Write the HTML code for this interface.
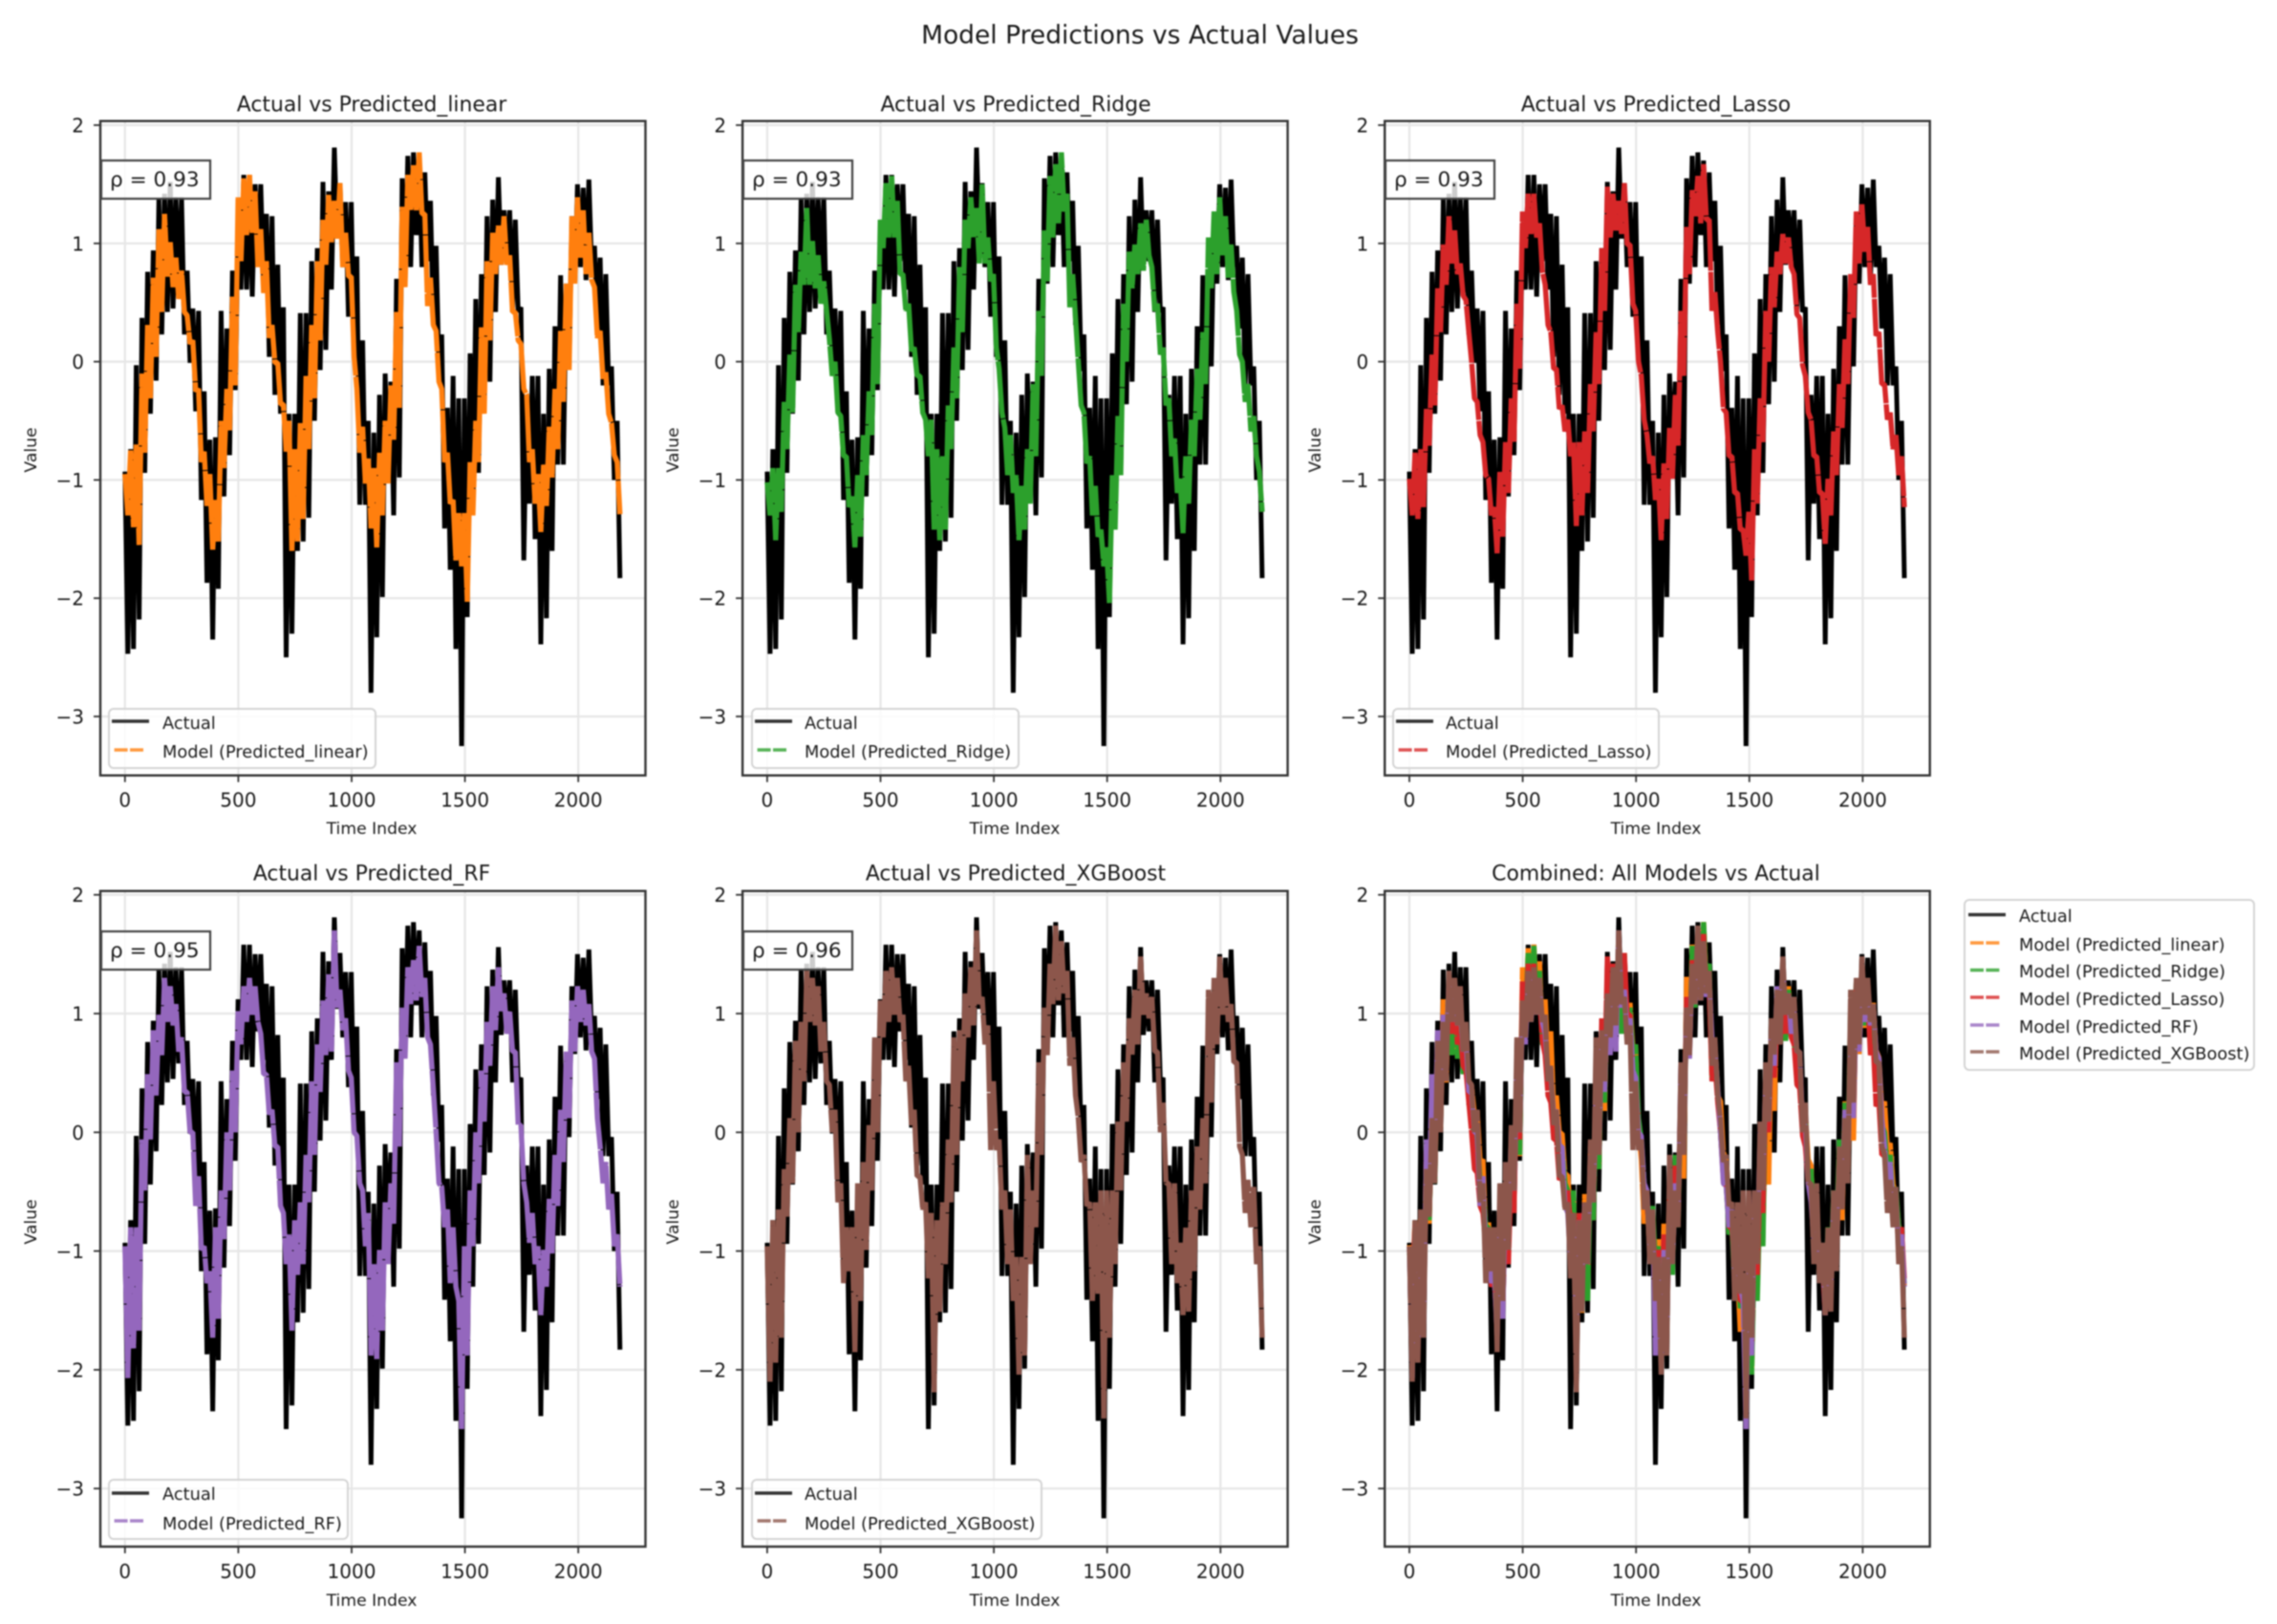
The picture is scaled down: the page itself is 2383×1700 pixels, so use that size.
<!DOCTYPE html>
<html lang="en">
<head>
<meta charset="utf-8">
<title>Model Predictions vs Actual Values</title>
<style>
html,body{margin:0;padding:0;background:#fff;width:2383px;height:1700px;overflow:hidden}
svg{display:block;filter:blur(0.9px)}
text{font-family:"DejaVu Sans","Liberation Sans",sans-serif;fill:#1a1a1a}
.title{font-size:21.9px;text-anchor:middle}
.axlabel{font-size:17.2px;text-anchor:middle}
.tick{font-size:20px}
.leg{font-size:17.8px}
.rho{font-size:21.6px}
.legbox{fill:#fff;fill-opacity:.8;stroke:#d4d4d4;stroke-width:2}
.rhobox{fill:#fff;fill-opacity:.8;stroke:#444;stroke-width:2.2}
.frame{fill:none;stroke:#333;stroke-width:2.4}
</style>
</head>
<body>
<svg id="fig" xmlns="http://www.w3.org/2000/svg" width="2383" height="1700" viewBox="0 0 2383 1700">
<rect width="2383" height="1700" fill="#fff"/>
<text x="1193" y="45.5" font-size="26.5" text-anchor="middle">Model Predictions vs Actual Values</text>

<g id="panel-0">
<text class="title" x="389" y="116.7">Actual vs Predicted_linear</text>
<text class="axlabel" x="389" y="873">Time Index</text>
<text class="axlabel" transform="translate(38,471) rotate(-90)">Value</text>
<g class="plot"></g>
<rect class="rhobox" x="106" y="168" width="114" height="40"/>
<text class="rho" x="115" y="195">ρ = 0.93</text>
<rect class="legbox" x="114" y="742" width="279" height="62" rx="5"/>
<line x1="117" x2="156" y1="755" y2="755" stroke="#000" stroke-opacity=".8" stroke-width="3.6"/>
<line x1="119.6" x2="150" y1="785" y2="785" stroke="#ff7f0e" stroke-opacity=".8" stroke-width="3.6" stroke-dasharray="14 2.4"/>
<text class="leg" x="170" y="763">Actual</text>
<text class="leg" x="170" y="793">Model (Predicted_linear)</text>
</g>

<g id="panel-1">
<text class="title" x="1063" y="116.7">Actual vs Predicted_Ridge</text>
<text class="axlabel" x="1062" y="873">Time Index</text>
<text class="axlabel" transform="translate(710,471) rotate(-90)">Value</text>
<g class="plot"></g>
<rect class="rhobox" x="778" y="168" width="114" height="40"/>
<text class="rho" x="787" y="195">ρ = 0.93</text>
<rect class="legbox" x="787" y="742" width="279" height="62" rx="5"/>
<line x1="790" x2="829" y1="755" y2="755" stroke="#000" stroke-opacity=".8" stroke-width="3.6"/>
<line x1="792.6" x2="823" y1="785" y2="785" stroke="#2ca02c" stroke-opacity=".8" stroke-width="3.6" stroke-dasharray="14 2.4"/>
<text class="leg" x="842" y="763">Actual</text>
<text class="leg" x="842" y="793">Model (Predicted_Ridge)</text>
</g>

<g id="panel-2">
<text class="title" x="1733" y="116.7">Actual vs Predicted_Lasso</text>
<text class="axlabel" x="1733" y="873">Time Index</text>
<text class="axlabel" transform="translate(1382,471) rotate(-90)">Value</text>
<g class="plot"></g>
<rect class="rhobox" x="1450" y="168" width="114" height="40"/>
<text class="rho" x="1459" y="195">ρ = 0.93</text>
<rect class="legbox" x="1458" y="742" width="278" height="62" rx="5"/>
<line x1="1461" x2="1500" y1="755" y2="755" stroke="#000" stroke-opacity=".8" stroke-width="3.6"/>
<line x1="1463.6" x2="1494" y1="785" y2="785" stroke="#d62728" stroke-opacity=".8" stroke-width="3.6" stroke-dasharray="14 2.4"/>
<text class="leg" x="1513" y="763">Actual</text>
<text class="leg" x="1513" y="793">Model (Predicted_Lasso)</text>
</g>

<g id="panel-3">
<text class="title" x="389" y="921.5">Actual vs Predicted_RF</text>
<text class="axlabel" x="389" y="1681">Time Index</text>
<text class="axlabel" transform="translate(38,1279) rotate(-90)">Value</text>
<g class="plot"></g>
<rect class="rhobox" x="106" y="975" width="114" height="40"/>
<text class="rho" x="115" y="1002">ρ = 0.95</text>
<rect class="legbox" x="114" y="1549" width="250" height="62" rx="5"/>
<line x1="117" x2="156" y1="1563" y2="1563" stroke="#000" stroke-opacity=".8" stroke-width="3.6"/>
<line x1="119.6" x2="150" y1="1592" y2="1592" stroke="#9467bd" stroke-opacity=".8" stroke-width="3.6" stroke-dasharray="14 2.4"/>
<text class="leg" x="170" y="1570">Actual</text>
<text class="leg" x="170" y="1601">Model (Predicted_RF)</text>
</g>

<g id="panel-4">
<text class="title" x="1063" y="921.5">Actual vs Predicted_XGBoost</text>
<text class="axlabel" x="1062" y="1681">Time Index</text>
<text class="axlabel" transform="translate(710,1279) rotate(-90)">Value</text>
<g class="plot"></g>
<rect class="rhobox" x="778" y="975" width="114" height="40"/>
<text class="rho" x="787" y="1002">ρ = 0.96</text>
<rect class="legbox" x="787" y="1549" width="303" height="62" rx="5"/>
<line x1="790" x2="829" y1="1563" y2="1563" stroke="#000" stroke-opacity=".8" stroke-width="3.6"/>
<line x1="792.6" x2="823" y1="1592" y2="1592" stroke="#8c564b" stroke-opacity=".8" stroke-width="3.6" stroke-dasharray="14 2.4"/>
<text class="leg" x="842" y="1570">Actual</text>
<text class="leg" x="842" y="1601">Model (Predicted_XGBoost)</text>
</g>

<g id="panel-5">
<text class="title" x="1733" y="921.5">Combined: All Models vs Actual</text>
<text class="axlabel" x="1733" y="1681">Time Index</text>
<text class="axlabel" transform="translate(1382,1279) rotate(-90)">Value</text>
<g class="plot"></g>
</g>

<g>
<rect class="legbox" x="2056" y="942" width="303" height="178" rx="5"/>
<line x1="2060" x2="2099" y1="957.5" y2="957.5" stroke="#000" stroke-opacity=".8" stroke-width="3.6"/>
<line x1="2062" x2="2092.4" y1="987" y2="987" stroke="#ff7f0e" stroke-opacity=".8" stroke-width="3.6" stroke-dasharray="14 2.4"/>
<line x1="2062" x2="2092.4" y1="1015.5" y2="1015.5" stroke="#2ca02c" stroke-opacity=".8" stroke-width="3.6" stroke-dasharray="14 2.4"/>
<line x1="2062" x2="2092.4" y1="1044" y2="1044" stroke="#d62728" stroke-opacity=".8" stroke-width="3.6" stroke-dasharray="14 2.4"/>
<line x1="2062" x2="2092.4" y1="1073" y2="1073" stroke="#9467bd" stroke-opacity=".8" stroke-width="3.6" stroke-dasharray="14 2.4"/>
<line x1="2062" x2="2092.4" y1="1101" y2="1101" stroke="#8c564b" stroke-opacity=".8" stroke-width="3.6" stroke-dasharray="14 2.4"/>
<text class="leg" x="2113" y="965">Actual</text>
<text class="leg" x="2113" y="995">Model (Predicted_linear)</text>
<text class="leg" x="2113" y="1023">Model (Predicted_Ridge)</text>
<text class="leg" x="2113" y="1052">Model (Predicted_Lasso)</text>
<text class="leg" x="2113" y="1081">Model (Predicted_RF)</text>
<text class="leg" x="2113" y="1109">Model (Predicted_XGBoost)</text>
</g>
</svg>

<script>
/* Each series alternates a high and a low reading, one reading every sampleStep time-index units. */
const sampleStep = 12.48;
const xTicks = [0, 500, 1000, 1500, 2000];
const xTickLabels = ['0', '500', '1000', '1500', '2000'];
const yTicks = [-3, -2, -1, 0, 1, 2];
const yTickLabels = ['−3', '−2', '−1', '0', '1', '2'];

const actualValues = [
-0.93,-2.47,-0.74,-2.43,-0.03,-2.18,0.37,-0.94,0.76,-0.44,0.94,-0.16,1.37,0.23,1.42,0.42,
1.52,0.45,1.39,0.58,1.39,0.23,0.77,-0.01,0.45,-0.42,0.43,-1.17,-0.25,-1.87,-0.66,-2.35,
-0.64,-1.92,0.43,-1.14,0.28,-0.79,0.77,-0.24,1.12,0.61,1.58,0.61,1.58,0.55,1.5,0.85,
1.5,0.61,1.25,0.04,1.23,-0.28,0.82,-0.44,0.46,-2.5,-0.44,-2.3,-0.44,-1.6,0.41,-1.52,
0.41,-1.32,0.85,-0.5,0.96,-0.07,1.52,0.1,1.44,0.61,1.81,1.04,1.51,0.8,1.35,0.38,
1.35,0.04,0.89,-1.21,0.18,-1.21,-0.5,-2.8,-0.6,-2.33,-0.28,-1.99,-0.1,-0.9,-0.17,-1.3,
0.7,-0.98,1.55,0.66,1.74,0.8,1.77,1.07,1.7,0.8,1.6,0.85,1.36,0.31,0.98,-0.08,
0.23,-1.41,-0.39,-1.76,-0.12,-2.43,-0.31,-3.25,-0.31,-2.16,0.07,-1.3,0.53,-0.94,0.74,-0.36,
1.23,-0.17,1.37,0.42,1.56,0.82,1.28,0.85,1.28,0.42,1.2,0.42,0.46,-1.68,-0.28,-1.2,
-0.12,-1.5,-0.12,-2.39,-0.44,-2.17,-0.06,-1.6,0.3,-0.87,0.73,-0.87,0.66,-0.04,1.23,0.66,
1.5,0.8,1.47,0.69,1.54,0.8,0.98,0.28,0.88,-0.2,0.74,-0.2,-0.04,-1.0,-0.5,-1.83];

const linearValues = [
-0.95,-1.3,-0.75,-1.4,-0.7,-1.55,-0.1,-0.77,0.31,-0.31,0.71,0.04,1.12,0.42,1.25,0.72,
1.01,0.63,0.88,0.53,0.77,0.42,0.39,0.15,0.18,-0.25,-0.23,-0.85,-0.76,-1.22,-0.95,-1.59,
-1.17,-1.52,-0.5,-0.9,-0.23,-0.58,0.55,-0.2,1.39,0.85,1.55,1.07,1.58,1.09,1.44,0.8,
1.12,0.58,0.85,0.2,0.31,-0.01,-0.01,-0.36,-0.36,-0.76,-0.5,-1.6,-0.74,-1.52,-0.52,-1.33,
-0.12,-0.74,0.31,-0.31,0.85,0.18,1.2,0.82,1.41,1.01,1.36,1.04,1.51,0.8,1.09,0.72,
0.72,0.04,-0.23,-0.77,-0.55,-1.03,-0.82,-1.41,-0.9,-1.57,-0.77,-1.3,-0.5,-1.03,-0.2,-0.66,
0.42,-0.39,1.31,0.63,1.58,1.28,1.66,1.28,1.77,1.25,1.25,0.47,0.71,0.31,0.26,-0.17,
-0.23,-0.85,-0.77,-1.2,-1.17,-1.68,-1.28,-1.73,-1.28,-2.03,-0.85,-1.3,-0.5,-0.85,0.29,-0.44,
0.85,0.18,1.09,0.74,1.15,0.82,1.23,0.82,0.9,0.42,0.42,0.18,0.15,-0.23,-0.28,-0.85,
-0.74,-1.2,-0.95,-1.44,-0.87,-1.22,-0.55,-0.98,-0.23,-0.74,0.26,-0.34,0.66,-0.07,1.23,0.66,
1.39,0.88,1.28,0.74,1.09,0.69,0.63,0.2,0.26,-0.15,-0.09,-0.44,-0.52,-0.79,-0.85,-1.29];

const ridgeValues = [
-1.02,-1.3,-0.9,-1.51,-0.9,-1.27,-0.34,-0.74,0.06,-0.43,0.65,0.25,0.93,0.65,1.3,0.65,
1.02,0.62,0.9,0.49,0.68,0.43,0.19,-0.12,0,-0.43,-0.46,-0.8,-0.8,-1.23,-1.14,-1.57,
-0.96,-1.48,-0.62,-0.96,-0.25,-0.62,0.49,-0.19,1.2,0.96,1.51,1.05,1.57,1.05,1.36,0.74,
0.74,0.43,0.49,0.09,0.12,-0.12,-0.12,-0.43,-0.49,-0.8,-0.49,-1.42,-0.74,-1.51,-0.8,-1.42,
-0.37,-0.74,0.12,-0.31,0.8,0.25,1.2,0.96,1.39,1.05,1.3,0.83,1.5,0.83,1.05,0.68,
0.74,0.12,-0.06,-0.43,-0.56,-0.96,-0.62,-1.11,-0.96,-1.51,-1.05,-1.42,-0.74,-1.2,-0.19,-0.8,
0.43,-0.12,1.11,0.68,1.57,1.05,1.67,1.17,1.77,1.27,1.42,0.46,0.74,0.37,0,-0.37,
-0.43,-0.86,-0.8,-1.3,-1.05,-1.48,-1.42,-1.73,-1.57,-2.04,-0.96,-1.42,-0.46,-0.96,0.49,0,
0.93,0.62,0.99,0.74,1.17,0.77,1.2,0.9,0.8,0.43,0.49,0.06,0.12,-0.37,-0.31,-0.8,
-0.65,-1.11,-0.99,-1.45,-0.8,-1.2,-0.49,-0.8,-0.06,-0.49,0.25,-0.19,1.05,0.62,1.27,0.74,
1.39,0.9,1.23,0.71,0.99,0.59,0.43,0.06,0,-0.34,-0.19,-0.59,-0.46,-0.8,-0.93,-1.27];

const lassoValues = [
-0.99,-1.3,-0.77,-1.33,-0.74,-1.23,-0.4,-0.71,0.06,-0.37,0.62,0.25,0.99,0.65,1.23,0.83,
1.11,0.74,0.83,0.56,0.52,0.25,0,-0.31,-0.34,-0.62,-0.68,-0.96,-0.99,-1.3,-1.23,-1.62,
-0.93,-1.48,-0.68,-1.11,-0.31,-0.68,0.49,-0.06,1.27,0.96,1.42,1.08,1.42,1.05,1.17,0.77,
0.65,0.31,0.25,-0.06,-0.06,-0.4,-0.37,-0.59,-0.49,-0.8,-0.68,-1.39,-0.68,-1.3,-0.59,-1.11,
-0.19,-0.59,0.25,-0.19,0.96,0.43,1.48,1.05,1.42,1.11,1.36,1.08,1.51,0.99,0.99,0.49,
0.43,0,-0.12,-0.49,-0.62,-0.86,-0.8,-1.17,-0.99,-1.51,-0.86,-1.33,-0.56,-0.99,-0.28,-0.71,
0.43,-0.12,1.14,0.74,1.45,1.23,1.57,1.17,1.67,1.2,1.2,0.43,0.59,0.25,0,-0.4,
-0.43,-0.8,-0.8,-1.11,-1.11,-1.42,-1.42,-1.64,-1.27,-1.85,-0.74,-1.2,-0.31,-0.68,0.43,0,
0.8,0.46,0.93,0.74,1.08,0.83,1.05,0.8,0.74,0.4,0.37,-0.03,-0.12,-0.43,-0.49,-0.8,
-0.8,-1.11,-1.11,-1.54,-0.99,-1.3,-0.59,-0.96,-0.19,-0.56,0.19,-0.19,0.74,0.37,1.27,0.83,
1.33,0.93,1.14,0.65,0.74,0.22,0.25,-0.19,-0.19,-0.49,-0.43,-0.74,-0.62,-0.96,-0.8,-1.23];

const rfValues = [
-0.96,-2.07,-0.8,-1.82,-0.8,-1.67,-0.06,-0.49,0.49,-0.06,0.86,0.31,0.99,0.65,1.3,0.93,
1.23,0.9,1.08,0.68,0.8,0.34,0.34,0,0,-0.62,-0.37,-0.99,-0.96,-1.27,-1.17,-1.73,
-0.8,-1.57,-0.49,-0.9,0,-0.49,0.52,0,1.02,0.74,1.23,0.93,1.3,0.99,1.23,0.93,
0.83,0.49,0.49,0.15,0.19,-0.12,-0.12,-0.62,-0.68,-1.11,-0.86,-1.67,-0.74,-1.2,-0.59,-1.11,
-0.19,-0.59,0.43,-0.19,0.74,0.34,1.11,0.65,1.33,0.68,1.7,1.05,1.2,0.86,0.96,0.52,
0.46,0,-0.03,-0.43,-0.49,-0.96,-0.68,-1.88,-1.11,-1.91,-0.99,-1.67,-0.59,-1.11,-0.43,-0.77,
0.59,-0.12,1.05,0.62,1.39,1.08,1.45,1.11,1.57,1.14,1.3,0.8,0.74,0.37,0,-0.43,
-0.46,-0.8,-0.65,-1.27,-0.8,-1.3,-1.42,-2.5,-0.96,-1.88,-0.49,-0.96,0,-0.43,0.52,0.09,
0.93,0.56,1.23,0.86,1.39,1.02,1.17,0.83,1.02,0.68,0.68,0.06,0.06,-0.43,-0.59,-0.93,
-0.68,-1.11,-0.96,-1.54,-0.99,-1.3,-0.56,-1.02,-0.19,-0.62,0.19,-0.25,0.68,0.12,1.11,0.68,
1.23,0.93,1.2,0.9,1.08,0.68,0.62,0.12,-0.12,-0.43,-0.25,-0.65,-0.52,-0.96,-0.86,-1.3];

const xgboostValues = [
-0.96,-2.1,-0.74,-1.94,-0.65,-1.73,-0.31,-0.71,0.12,-0.43,0.77,0,0.93,0.43,1.36,0.93,
1.3,0.9,1.23,0.68,0.93,0.43,0.4,0,0.19,-0.59,-0.43,-1.27,-0.8,-1.17,-0.8,-1.85,
-0.43,-1.42,-0.25,-0.99,0.06,-0.49,0.8,0,1.11,0.8,1.36,0.93,1.39,0.99,1.3,0.93,
0.99,0.43,0.56,0.06,0.19,-0.37,-0.37,-0.65,-0.59,-1.23,-0.68,-2.19,-0.74,-1.51,-0.59,-1.11,
-0.06,-0.59,0.8,-0.19,0.86,0.43,1.17,0.8,1.39,0.9,1.7,1.08,1.14,0.74,0.9,-0.15,
0.43,-0.15,-0.06,-0.65,-0.49,-1.11,-0.65,-1.42,-1.05,-2.04,-1.05,-1.88,-0.19,-1.11,-0.49,-0.8,
0.59,-0.19,1.05,0.65,1.42,1.08,1.74,1.11,1.61,1.17,1.36,0.56,0.8,0.31,0.12,-0.25,
-0.19,-0.62,-0.59,-1.42,-0.59,-1.36,-0.49,-2.41,-0.49,-1.73,-0.49,-1.11,0.09,-0.49,0.59,0.09,
0.96,0.65,1.2,0.74,1.48,0.99,1.17,0.96,1.14,0.68,0.68,0,0.25,-0.43,-0.43,-1.11,
-0.43,-1.27,-0.93,-1.54,-0.8,-1.51,-0.49,-1.17,-0.12,-0.65,0.12,-0.43,1.2,0.25,1.3,0.74,
1.48,0.99,1.3,0.93,1.08,0.59,0.59,-0.12,-0.19,-0.68,-0.4,-0.8,-0.46,-1.11,-0.96,-1.73];

const panelSeries = [
  [{ name: 'linear', values: linearValues, color: '#ff7f0e' }],
  [{ name: 'ridge', values: ridgeValues, color: '#2ca02c' }],
  [{ name: 'lasso', values: lassoValues, color: '#d62728' }],
  [{ name: 'rf', values: rfValues, color: '#9467bd' }],
  [{ name: 'xgboost', values: xgboostValues, color: '#8c564b' }],
  [
    { name: 'linear', values: linearValues, color: '#ff7f0e' },
    { name: 'ridge', values: ridgeValues, color: '#2ca02c' },
    { name: 'lasso', values: lassoValues, color: '#d62728' },
    { name: 'rf', values: rfValues, color: '#9467bd' },
    { name: 'xgboost', values: xgboostValues, color: '#8c564b' }
  ]
];

const SVG_NS = 'http://www.w3.org/2000/svg';
const columnLefts = [105, 777.1, 1449.2];
const rowLayouts = [
  { top: 126.7, bottom: 811.7, zero: 378.6, unit: 123.8 },
  { top: 932.7, bottom: 1619, zero: 1185.3, unit: 124.3 }
];
const plotWidth = 570.5;
const zeroOffset = 25.8;
const pxPerIndex = 0.2372;

function svgEl(tag, props) {
  const el = document.createElementNS(SVG_NS, tag);
  Object.keys(props).forEach(function (k) { el.setAttribute(k, props[k]); });
  return el;
}

function buildPanel(panelIdx) {
  const left = columnLefts[panelIdx % 3];
  const row = rowLayouts[panelIdx < 3 ? 0 : 1];
  const right = left + plotWidth;
  const xScale = function (i) { return left + zeroOffset + i * pxPerIndex; };
  const yScale = function (v) { return row.zero - v * row.unit; };
  const plot = document.querySelector('#panel-' + panelIdx + ' .plot');

  xTicks.forEach(function (t, k) {
    const x = xScale(t);
    const grid = svgEl('line', { x1: x, x2: x, y1: row.top, y2: row.bottom, stroke: '#e6e6e6', 'stroke-width': 2.2 });
    
    
    plot.appendChild(grid);
    const mark = svgEl('line', { x1: x, x2: x, y1: row.bottom, y2: row.bottom + 7, stroke: '#333', 'stroke-width': 1.8 });
    
    
    plot.appendChild(mark);
    const label = svgEl('text', { x: x, y: row.bottom + 33, 'text-anchor': 'middle', class: 'tick' });
    
    
    label.textContent = xTickLabels[k];
    plot.appendChild(label);
  });

  yTicks.forEach(function (t, k) {
    const y = yScale(t);
    const grid = svgEl('line', { x1: left, x2: right, y1: y, y2: y, stroke: '#e6e6e6', 'stroke-width': 2.2 });
    
    
    plot.appendChild(grid);
    const mark = svgEl('line', { x1: left - 7, x2: left, y1: y, y2: y, stroke: '#333', 'stroke-width': 1.8 });
    
    
    plot.appendChild(mark);
    const label = svgEl('text', { x: left - 17, y: y + 7.5, 'text-anchor': 'end', class: 'tick' });
    
    
    label.textContent = yTickLabels[k];
    plot.appendChild(label);
  });

  const toPoints = function (values) {
    return values.map(function (v, n) {
      return xScale(n * sampleStep).toFixed(1) + ',' + yScale(v).toFixed(1);
    }).join(' ');
  };

  const actualLine = svgEl('polyline', {
    points: toPoints(actualValues), fill: 'none', stroke: '#000',
    'stroke-width': 5, 'stroke-linejoin': 'bevel'
  });
  
  
  plot.appendChild(actualLine);

  panelSeries[panelIdx].forEach(function (s) {
    const modelLine = svgEl('polyline', {
      points: toPoints(s.values), fill: 'none', stroke: s.color,
      'stroke-width': 5.4, 'stroke-linejoin': 'bevel', 'stroke-dasharray': '60 1'
    });
    
    
    plot.appendChild(modelLine);
  });

  const frame = svgEl('rect', { x: left, y: row.top, width: plotWidth, height: row.bottom - row.top, class: 'frame' });
  
  
  plot.appendChild(frame);
}

panelSeries.forEach(function (_, idx) { buildPanel(idx); });
</script>
</body>
</html>
